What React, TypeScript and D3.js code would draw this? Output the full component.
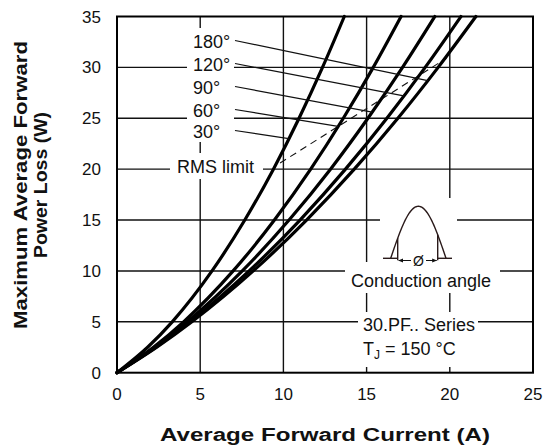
import React from "react";
import * as d3 from "d3";

// ---- data ----
const powerLevels = [0, 2.5, 5, 10, 15, 20, 25, 30, 35]; // W
const angles = ["30°", "60°", "90°", "120°", "180°"];
const current30 = [0, 1.84, 3.32, 5.71, 7.68, 9.4, 10.94, 12.35, 13.66];
const current60 = [0, 2.19, 4.0, 6.98, 9.46, 11.64, 13.6, 15.4, 17.07];
const current90 = [0, 2.27, 4.22, 7.53, 10.34, 12.83, 15.08, 17.16, 19.1];
const current120 = [0, 2.34, 4.39, 7.94, 11.0, 13.73, 16.22, 18.52, 20.67];
const current180 = [0, 2.39, 4.5, 8.19, 11.39, 14.26, 16.88, 19.3, 21.57];
const seriesCurrents = [current30, current60, current90, current120, current180];

// leader-line targets: power on each curve (30°..180°)
const leaderPower = [23.0, 24.2, 25.6, 27.2, 28.7];
// RMS limit dashed line endpoints (A, W)
const rmsCurrent = [9.8, 19.8];
const rmsPower = [20.6, 30.9];

const xTicks = [0, 5, 10, 15, 20, 25];
const yTicks = [0, 5, 10, 15, 20, 25, 30, 35];

const W = 543;
const H = 446;
const FONT = "'Liberation Sans', Arial, Helvetica, sans-serif";

export default function App() {
  const x = d3.scaleLinear().domain([0, 25]).range([117, 533]);
  const y = d3.scaleLinear().domain([0, 35]).range([372.7, 16.5]);

  const line = d3
    .line<[number, number]>()
    .x((d) => x(d[0]))
    .y((d) => y(d[1]))
    .curve(d3.curveMonotoneX);

  const curvePts = seriesCurrents.map((cur) =>
    cur.map((c, i) => [c, powerLevels[i]] as [number, number])
  );

  const currentAt = (ci: number, p: number) => {
    const cur = seriesCurrents[ci];
    for (let i = 1; i < powerLevels.length; i++) {
      if (p <= powerLevels[i]) {
        const t = (p - powerLevels[i - 1]) / (powerLevels[i] - powerLevels[i - 1]);
        return cur[i - 1] + t * (cur[i] - cur[i - 1]);
      }
    }
    return cur[cur.length - 1];
  };

  const labelBaselines = [138, 117, 94, 71, 48]; // 30°,60°,90°,120°,180°

  // conduction-angle icon geometry
  const iconX0 = 390.7;
  const iconX1 = 446;
  const iconBase = 258.3;
  const iconAmp = 52;
  const condX0 = 397.7;
  const condX1 = 437.7;
  const sinePts: [number, number][] = d3.range(0, 1.0001, 0.02).map((t) => [
    iconX0 + t * (iconX1 - iconX0),
    iconBase - iconAmp * Math.sin(Math.PI * t),
  ]);
  const sineAt = (px: number) =>
    iconBase - iconAmp * Math.sin((Math.PI * (px - iconX0)) / (iconX1 - iconX0));
  const sineLine = d3.line<[number, number]>().x((d) => d[0]).y((d) => d[1]);

  return (
    <svg
      width={W}
      height={H}
      style={{ position: "absolute", left: 0, top: 0, background: "#fff" }}
      fontFamily={FONT}
    >
      <defs>
        <marker id="arr" viewBox="0 0 10 10" refX="9" refY="5" markerWidth="5" markerHeight="5" orient="auto">
          <path d="M0,1 L10,5 L0,9 z" fill="#111" />
        </marker>
      </defs>
      <rect x={0} y={0} width={W} height={H} fill="#fff" />

      {/* grid */}
      {xTicks.slice(1, -1).map((t) => (
        <line key={"gx" + t} x1={x(t)} x2={x(t)} y1={y(0)} y2={y(35)} stroke="#111" strokeWidth={1.4} />
      ))}
      {yTicks.slice(1, -1).map((t) => (
        <line key={"gy" + t} x1={x(0)} x2={x(25)} y1={y(t)} y2={y(t)} stroke="#111" strokeWidth={1.4} />
      ))}

      {/* white label backgrounds */}
      <rect x={187} y={28} width={47} height={114} fill="#fff" />
      <rect x={170} y={153} width={93} height={26} fill="#fff" />
      <rect x={380} y={198} width={77} height={64} fill="#fff" />
      <rect x={345} y={262} width={155} height={31} fill="#fff" />
      <rect x={358} y={312} width={120} height={55} fill="#fff" />

      {/* RMS limit dashed */}
      <line
        x1={x(rmsCurrent[0])}
        y1={y(rmsPower[0])}
        x2={x(rmsCurrent[1])}
        y2={y(rmsPower[1])}
        stroke="#111"
        strokeWidth={1.1}
        strokeDasharray="7,5"
      />

      {/* curves */}
      {curvePts.map((pts, i) => (
        <path key={"c" + i} d={line(pts) || ""} fill="none" stroke="#000" strokeWidth={3.2} strokeLinecap="round" />
      ))}

      {/* leader lines & labels */}
      {angles.map((a, i) => {
        const p = leaderPower[i];
        const c = currentAt(i, p);
        const by = labelBaselines[i];
        return (
          <g key={"l" + a}>
            <line x1={235} y1={by - 7.5} x2={x(c)} y2={y(p)} stroke="#111" strokeWidth={1.2} />
            <text x={193} y={by} fontSize={18} fill="#111">
              {a}
            </text>
          </g>
        );
      })}
      <text x={177} y={173} fontSize={18} fill="#111">
        RMS limit
      </text>

      {/* conduction angle icon */}
      <path d={sineLine(sinePts) || ""} fill="none" stroke="#2a1a1a" strokeWidth={1.4} />
      <line x1={383} x2={condX0} y1={iconBase} y2={iconBase} stroke="#2a1a1a" strokeWidth={1.4} />
      <line x1={condX1} x2={452} y1={iconBase} y2={iconBase} stroke="#2a1a1a" strokeWidth={1.4} />
      <line x1={condX0} x2={condX0} y1={iconBase + 2} y2={sineAt(condX0)} stroke="#2a1a1a" strokeWidth={1.4} />
      <line x1={condX1} x2={condX1} y1={iconBase + 2} y2={sineAt(condX1)} stroke="#2a1a1a" strokeWidth={1.4} />
      <line x1={411} x2={condX0 + 1} y1={260.5} y2={260.5} stroke="#111" strokeWidth={1} markerEnd="url(#arr)" />
      <line x1={426} x2={condX1 - 1} y1={260.5} y2={260.5} stroke="#111" strokeWidth={1} markerEnd="url(#arr)" />
      <text x={418.5} y={266} fontSize={14} textAnchor="middle" fill="#111">
        Ø
      </text>
      <text x={421} y={287} fontSize={18} textAnchor="middle" fill="#111">
        Conduction angle
      </text>
      <text x={363} y={331} fontSize={18} fill="#111">
        30.PF.. Series
      </text>
      <text x={363} y={355} fontSize={18} fill="#111">
        T<tspan fontSize={12} dy={4}>J</tspan>
        <tspan dy={-4}> = 150 °C</tspan>
      </text>

      {/* frame */}
      <rect x={x(0)} y={y(35)} width={x(25) - x(0)} height={y(0) - y(35)} fill="none" stroke="#000" strokeWidth={2} />

      {/* tick labels */}
      {xTicks.map((t) => (
        <text key={"tx" + t} x={x(t)} y={400} fontSize={17} textAnchor="middle" fill="#111">
          {t}
        </text>
      ))}
      {yTicks.map((t) => (
        <text key={"ty" + t} x={101} y={y(t) + 6} fontSize={17} textAnchor="end" fill="#111">
          {t}
        </text>
      ))}

      {/* axis titles */}
      <text
        x={325}
        y={441}
        fontSize={18}
        fontWeight="bold"
        textAnchor="middle"
        fill="#111"
        textLength={330}
        lengthAdjust="spacingAndGlyphs"
      >
        Average Forward Current (A)
      </text>
      <text
        transform="translate(27,185) rotate(-90)"
        fontSize={18}
        fontWeight="bold"
        textAnchor="middle"
        fill="#111"
        textLength={288}
        lengthAdjust="spacingAndGlyphs"
      >
        Maximum Average Forward
      </text>
      <text
        transform="translate(47,185) rotate(-90)"
        fontSize={18}
        fontWeight="bold"
        textAnchor="middle"
        fill="#111"
        textLength={146}
        lengthAdjust="spacingAndGlyphs"
      >
        Power Loss (W)
      </text>
    </svg>
  );
}
